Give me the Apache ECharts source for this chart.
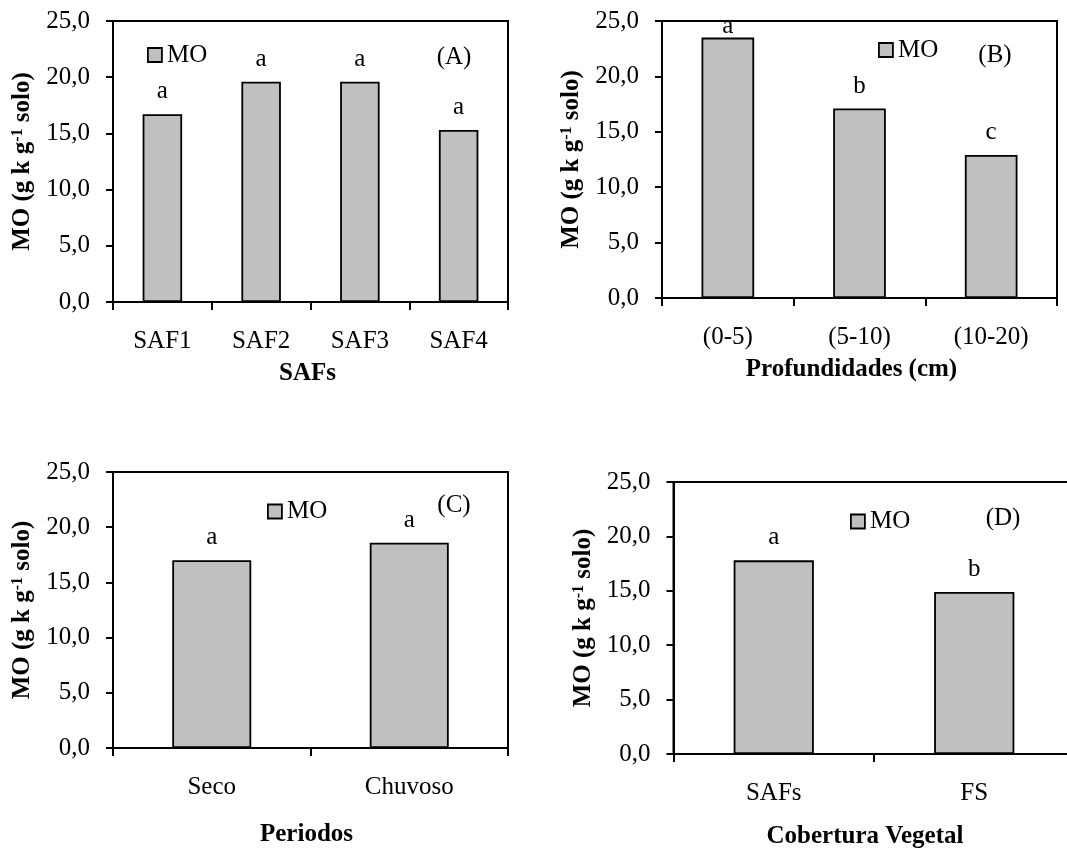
<!DOCTYPE html>
<html>
<head>
<meta charset="utf-8">
<script src="https://cdn.jsdelivr.net/npm/echarts@6/dist/echarts.min.js"></script>
<style>
html,body{margin:0;padding:0;background:#fff;}
#chart{width:1067px;height:850px;}
</style>
</head>
<body>
<div id="chart"></div>
<script>
// ---- data ----
const catsA = ['SAF1', 'SAF2', 'SAF3', 'SAF4'];
const valsA = [16.7, 19.6, 19.6, 15.3];
const letA = ['a', 'a', 'a', 'a'];

const catsB = ['(0-5)', '(5-10)', '(10-20)'];
const valsB = [23.5, 17.1, 12.9];
const letB = ['a', 'b', 'c'];

const catsC = ['Seco', 'Chuvoso'];
const valsC = [17.0, 18.6];
const letC = ['a', 'a'];

const catsD = ['SAFs', 'FS'];
const valsD = [17.8, 14.9];
const letD = ['a', 'b'];

const xNames = ['SAFs', 'Profundidades (cm)', 'Periodos', 'Cobertura Vegetal'];
const panelTags = ['(A)', '(B)', '(C)', '(D)'];
const seriesName = 'MO';
const yTicks = [0, 25, 5]; // min, max, interval

// ---- layout ----
const FONT = '"Liberation Serif", "Times New Roman", serif';
const FS = 25;
const grids = [
  {left: 113, top: 21, width: 395, height: 281},
  {left: 662, top: 21, width: 395, height: 277},
  {left: 113, top: 472, width: 395, height: 276},
  {left: 673.5, top: 482, width: 401, height: 272}
];
const xNameGap = [59, 59, 74, 70];
const xNamePad = [[0,6,0,0], [0,16,0,0], [0,8,0,0], [0,18,0,0]];
const legendPos = [[147, 42.5], [878, 37.5], [267, 499], [850, 509]];
const tagPos = [[454, 57], [995, 55], [454, 505], [1003, 518]];

const cats = [catsA, catsB, catsC, catsD];
const vals = [valsA, valsB, valsC, valsD];
const lets = [letA, letB, letC, letD];

const option = {
  backgroundColor: '#fff',
  animation: false,
  textStyle: {fontFamily: FONT, color: '#000'},
  grid: grids.map(g => Object.assign({show: true, borderColor: '#000', borderWidth: 2, backgroundColor: 'transparent', containLabel: false, outerBoundsMode: 'none'}, g)),
  legend: legendPos.map((p, i) => ({
    left: p[0], top: p[1], padding: 0,
    data: [{name: seriesName + (i ? ' '.repeat(i) : ''), icon: 'rect'}],
    itemWidth: 14, itemHeight: 14,
    itemStyle: {borderColor: '#000', borderWidth: 1.8},
    formatter: () => seriesName,
    textStyle: {fontFamily: FONT, fontSize: FS, color: '#000'},
    selectedMode: false
  })),
  xAxis: cats.map((c, i) => ({
    type: 'category', gridIndex: i, data: c,
    name: xNames[i], nameLocation: 'middle', nameGap: xNameGap[i],
    nameTextStyle: {fontFamily: FONT, fontSize: FS, fontWeight: 'bold', color: '#000', padding: xNamePad[i]},
    axisLine: {lineStyle: {color: '#000', width: 2}},
    axisTick: {show: true, length: 8, lineStyle: {color: '#000', width: 2}},
    axisLabel: {fontFamily: FONT, fontSize: FS, color: '#000', margin: 27},
    splitLine: {show: false}
  })),
  yAxis: cats.map((c, i) => ({
    type: 'value', gridIndex: i, min: yTicks[0], max: yTicks[1], interval: yTicks[2],
    name: 'MO (g k g{sup|-1} solo)', nameLocation: 'middle', nameGap: 77, nameRotate: 90,
    nameTextStyle: {fontFamily: FONT, fontSize: FS, fontWeight: 'bold', color: '#000',
      rich: {sup: {fontFamily: FONT, fontSize: 16, fontWeight: 'bold', color: '#000', verticalAlign: 'top', padding: [0, 0, 10, 0]}}},
    axisLine: {show: true, lineStyle: {color: '#000', width: 2}},
    axisTick: {show: true, length: 7, lineStyle: {color: '#000', width: 2}},
    axisLabel: {fontFamily: FONT, fontSize: FS, color: '#000', margin: 23,
      formatter: v => v.toFixed(1).replace('.', ',')},
    splitLine: {show: false}
  })),
  series: vals.map((v, i) => ({
    type: 'bar', name: seriesName + (i ? ' '.repeat(i) : ''),
    xAxisIndex: i, yAxisIndex: i,
    barWidth: '40%',
    itemStyle: {color: '#c0c0c0', borderColor: '#000', borderWidth: 1.8},
    label: {show: true, position: 'top', distance: 10, fontFamily: FONT, fontSize: FS, color: '#000',
      formatter: p => lets[i][p.dataIndex]},
    data: v.map((val, j) => (i === 1 && j === 0) ? {value: val, label: {distance: -1}} : val)
  })),
  graphic: tagPos.map((p, i) => ({
    type: 'text', x: p[0], y: p[1],
    style: {text: panelTags[i], fontFamily: FONT, fontSize: FS, fill: '#000', textAlign: 'center', textVerticalAlign: 'middle'}
  }))
};

const chart = echarts.init(document.getElementById('chart'), null, {renderer: 'canvas'});
chart.setOption(option);
</script>
</body>
</html>
